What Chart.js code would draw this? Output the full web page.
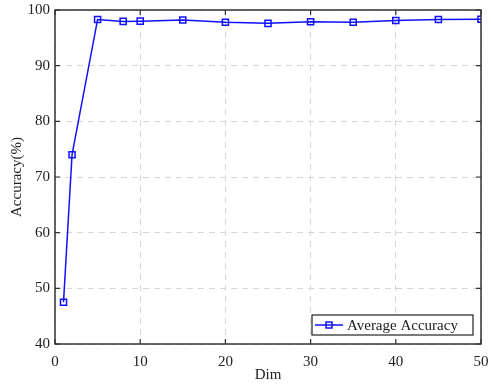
<!DOCTYPE html>
<html>
<head>
<meta charset="utf-8">
<script src="https://cdn.jsdelivr.net/npm/chart.js@4"></script>
<style>
  html, body { margin: 0; padding: 0; background: #fff; }
  #wrap { width: 493px; height: 384px; }
</style>
</head>
<body>
<div id="wrap"><canvas id="chart"></canvas></div>
<script>
const dims = [1, 2, 5, 8, 10, 15, 20, 25, 30, 35, 40, 45, 50];
const accuracy = [47.5, 74.0, 98.3, 97.95, 98.0, 98.2, 97.8, 97.6, 97.9, 97.8, 98.1, 98.3, 98.35];
const xTicks = [0, 10, 20, 30, 40, 50];
const yTicks = [40, 50, 60, 70, 80, 90, 100];
const seriesName = "Average Accuracy";

const serif = "'Liberation Serif', 'DejaVu Serif', serif";
const blue = "#1010ff";

// frame, inward ticks and legend inside the plot box
const boxPlugin = {
    id: "box",
    afterDraw(chart) {
        const { ctx, chartArea: a, scales } = chart;
        ctx.save();
        ctx.strokeStyle = "#333";
        ctx.lineWidth = 1.5;
        ctx.strokeRect(a.left, a.top, a.right - a.left, a.bottom - a.top);
        ctx.lineWidth = 1.2;
        const len = 5;
        ctx.beginPath();
        xTicks.forEach((v) => {
            const x = scales.x.getPixelForValue(v);
            ctx.moveTo(x, a.bottom); ctx.lineTo(x, a.bottom - len);
            ctx.moveTo(x, a.top); ctx.lineTo(x, a.top + len);
        });
        yTicks.forEach((v) => {
            const y = scales.y.getPixelForValue(v);
            ctx.moveTo(a.left, y); ctx.lineTo(a.left + len, y);
            ctx.moveTo(a.right, y); ctx.lineTo(a.right - len, y);
        });
        ctx.stroke();

        // legend
        const w = 161, h = 20;
        const lx = a.right - 8 - w, ly = a.bottom - 9 - h;
        ctx.fillStyle = "#fff";
        ctx.fillRect(lx, ly, w, h);
        ctx.strokeStyle = "#222";
        ctx.lineWidth = 1.2;
        ctx.strokeRect(lx, ly, w, h);
        const cy = ly + h / 2;
        ctx.strokeStyle = blue;
        ctx.lineWidth = 1.5;
        ctx.beginPath();
        ctx.moveTo(lx + 3, cy); ctx.lineTo(lx + 31, cy);
        ctx.stroke();
        ctx.strokeRect(lx + 14, cy - 3, 6, 6);
        ctx.fillStyle = "#222";
        ctx.font = "15px " + serif;
        ctx.textBaseline = "middle";
        ctx.fillText(seriesName, lx + 35, cy + 1);
        ctx.restore();
    }
};

const ctx = document.getElementById("chart").getContext("2d");
new Chart(ctx, {
    type: "line",
    data: {
        datasets: [{
            label: seriesName,
            data: dims.map((d, i) => ({ x: d, y: accuracy[i] })),
            borderColor: blue,
            backgroundColor: "rgba(0,0,0,0)",
            borderWidth: 1.5,
            pointStyle: "rect",
            pointRadius: 4.3,
            pointBorderWidth: 1.5,
            pointBorderColor: blue,
            pointBackgroundColor: "rgba(0,0,0,0)",
            tension: 0,
            fill: false
        }]
    },
    options: {
        responsive: true,
        maintainAspectRatio: false,
        animation: false,
        layout: { padding: { top: 10, right: 12, left: 0, bottom: 0 } },
        plugins: { legend: { display: false }, tooltip: { enabled: false } },
        scales: {
            x: {
                type: "linear",
                min: 0, max: 50,
                afterBuildTicks: (s) => { s.ticks = xTicks.map((v) => ({ value: v })); },
                afterFit: (s) => { s.height = 40; s.paddingLeft = 0; s.paddingRight = 0; },
                grid: { color: "#d6d6d6", lineWidth: 1, drawTicks: false },
                border: { display: false, dash: [6, 5] },
                ticks: { color: "#222", font: { family: serif, size: 15 }, padding: 9 },
                title: { display: true, text: "Dim", color: "#222", font: { family: serif, size: 15 }, padding: { top: -2, bottom: 0 } }
            },
            y: {
                min: 40, max: 100,
                afterBuildTicks: (s) => { s.ticks = yTicks.map((v) => ({ value: v })); },
                afterFit: (s) => { s.width = 55; s.paddingTop = 0; s.paddingBottom = 0; },
                grid: { color: "#d6d6d6", lineWidth: 1, drawTicks: false },
                border: { display: false, dash: [6, 5] },
                ticks: { color: "#222", font: { family: serif, size: 15 }, padding: 5 },
                title: { display: true, text: "Accuracy(%)", color: "#222", font: { family: serif, size: 15 }, padding: { top: 8, bottom: 0 } }
            }
        }
    },
    plugins: [boxPlugin]
});
</script>
</body>
</html>
